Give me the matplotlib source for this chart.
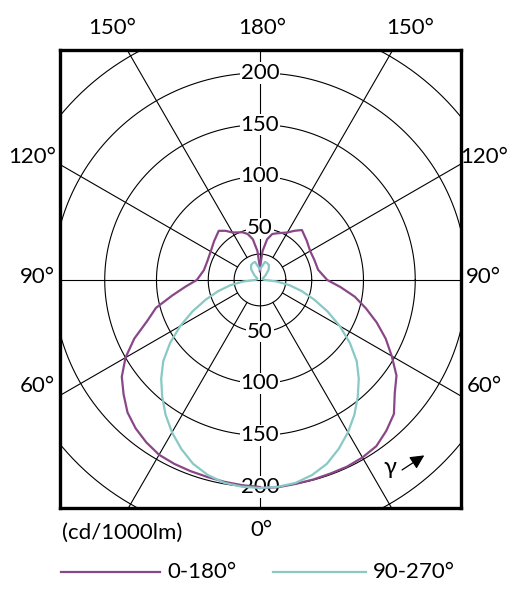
import numpy as np
import matplotlib
matplotlib.use("Agg")
from matplotlib import pyplot as plt
from matplotlib.lines import Line2D

plt.rcParams['font.family'] = ['Lato', 'DejaVu Sans']

# gamma angles (deg, 0 = straight down) and intensities (cd/1000lm)
gamma = [0, 5, 10, 15, 20, 25, 30, 35, 40, 45, 50, 55, 60, 65, 70, 75, 80, 85, 90,
         100, 110, 120, 130, 140, 145, 150, 160, 165, 170, 175, 178, 180]
c0_180_left = [200, 199, 198, 197, 196.5, 196, 195, 191.5, 187, 181, 172, 163, 150, 134, 116,
               104, 86, 72, 61,
               55, 54, 55, 58, 62, 58, 53, 49, 46, 40, 28, 15, 8]
c0_180_right = [201, 201, 200, 199.5, 199, 199, 198, 196, 190, 183, 170, 161, 147, 134, 120,
                106, 93, 78, 65,
                57, 56, 56, 59, 63, 58, 53, 48, 46, 40, 28, 15, 8]
c90_270 = [201, 200.5, 199, 195, 189, 180, 170, 159, 147, 135, 122, 106, 89, 72, 56,
           42, 29, 16, 5,
           3, 3, 3, 7, 13, 15, 17, 18, 18, 14, 12, 11, 10]

ring_values = [25, 50, 100, 150, 200, 250, 300]
ring_labels = [50, 100, 150, 200]
spoke_angles = [30, 60, 120, 150]

purple = "#8a4788"
cyan = "#88c9c5"

fig = plt.figure(figsize=(5.13, 6.0), dpi=100)
ax = fig.add_axes([60 / 513, 92 / 600, 401 / 513, 458 / 600])
ax.set_xlim(-193.2, 194.2)
ax.set_ylim(-220.3, 222.2)
ax.set_aspect('equal')
ax.set_xticks([])
ax.set_yticks([])
for s in ax.spines.values():
    s.set_linewidth(2.4)

# grid
t = np.linspace(0, 2 * np.pi, 400)
for r in ring_values:
    ax.plot(r * np.cos(t), r * np.sin(t), color="black", lw=0.8, zorder=1)
for a in spoke_angles:
    for side in (-1, 1):
        g = np.radians(a)
        ax.plot([side * 25 * np.sin(g), side * 400 * np.sin(g)],
                [-25 * np.cos(g), -400 * np.cos(g)], color="black", lw=0.8, zorder=1)
ax.plot([-400, 400], [0, 0], color="black", lw=0.8, zorder=1)
ax.plot([0, 0], [-400, 400], color="black", lw=0.8, zorder=1)

for v in ring_labels:
    for sgn in (1, -1):
        ax.text(0, sgn * v, str(v), ha="center", va="center", fontsize=16,
                bbox=dict(facecolor="white", edgecolor="none", pad=0.5), zorder=2)

# curves
g = np.radians(gamma)
r_l = np.array(c0_180_left)
r_r = np.array(c0_180_right)
xp = np.concatenate([-r_l * np.sin(g), (r_r * np.sin(g))[::-1]])
yp = np.concatenate([-r_l * np.cos(g), (-r_r * np.cos(g))[::-1]])
ax.plot(xp, yp, color=purple, lw=1.6, zorder=3)

r_c = np.array(c90_270)
xc = np.concatenate([-r_c * np.sin(g), (r_c * np.sin(g))[::-1]])
yc = np.concatenate([-r_c * np.cos(g), (-r_c * np.cos(g))[::-1]])
ax.plot(xc, yc, color=cyan, lw=1.6, zorder=3)

# gamma arrow
ax.text(125.6, -181.6, "γ", ha="center", va="center", fontsize=17, zorder=4)
ax.annotate("", xy=(161, -168), xytext=(135, -185),
            arrowprops=dict(arrowstyle="-|>,head_length=0.6,head_width=0.3",
                            color="black", lw=0.9, mutation_scale=14), zorder=4)

# outer angle labels
def ftext(px, py, s, **kw):
    fig.text(px / 513, 1 - py / 600, s, ha="center", va="center", fontsize=16, **kw)

ftext(112, 28, "150°")
ftext(262, 28, "180°")
ftext(410, 28, "150°")
ftext(32, 157, "120°")
ftext(484, 157, "120°")
ftext(37, 277, "90°")
ftext(483, 277, "90°")
ftext(37, 386, "60°")
ftext(484, 386, "60°")
ftext(261, 530, "0°")
fig.text(62 / 513, 1 - 533 / 600, "(cd/1000lm)", ha="left", va="center", fontsize=16)

# legend
fig.add_artist(Line2D([61 / 513, 160 / 513], [1 - 572 / 600] * 2, color=purple, lw=1.6))
fig.add_artist(Line2D([273 / 513, 366 / 513], [1 - 572 / 600] * 2, color=cyan, lw=1.6))
fig.text(167 / 513, 1 - 572 / 600, "0-180°", ha="left", va="center", fontsize=16)
fig.text(373 / 513, 1 - 572 / 600, "90-270°", ha="left", va="center", fontsize=16)

fig.savefig("out.png", dpi=100)
